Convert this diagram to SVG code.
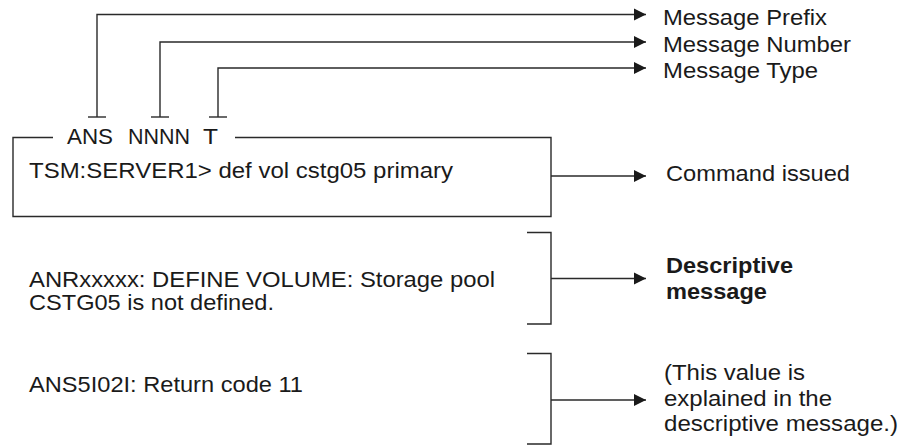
<svg xmlns="http://www.w3.org/2000/svg" width="907" height="445" viewBox="0 0 907 445">
<style>
  .t { font-family: "Liberation Sans", Arial, sans-serif; font-size: 22px; fill: #1a1a1a; }
  .b { font-weight: bold; }
  .ln { fill: none; stroke: #2a2a2a; stroke-width: 1.4; }
</style>
<defs>
  <marker id="ah" markerUnits="userSpaceOnUse" markerWidth="13" markerHeight="13" refX="12" refY="6.5" orient="auto">
    <path d="M0,0.5 L12,6.5 L0,12.5 z" fill="#1a1a1a"/>
  </marker>
</defs>
<rect width="907" height="445" fill="#ffffff"/>

<g id="connectors">
  <path class="ln" d="M97,117 V14.5 H646" marker-end="url(#ah)"/>
  <path class="ln" d="M88,117 H106"/>
  <path class="ln" d="M160,117 V42 H646" marker-end="url(#ah)"/>
  <path class="ln" d="M151,117 H169"/>
  <path class="ln" d="M218,117 V68 H646" marker-end="url(#ah)"/>
  <path class="ln" d="M209,117 H227"/>
  <path class="ln" d="M551,176 H646" marker-end="url(#ah)"/>
  <path class="ln" d="M551,278.5 H646" marker-end="url(#ah)"/>
  <path class="ln" d="M551,400 H646" marker-end="url(#ah)"/>
</g>

<g id="command-box">
  <path class="ln" d="M53,137.5 H13 V216.5 H551 V137.5 H235"/>
  <text class="t" x="67" y="143.5" textLength="46" lengthAdjust="spacingAndGlyphs">ANS</text>
  <text class="t" x="128" y="143.5" textLength="62" lengthAdjust="spacingAndGlyphs">NNNN</text>
  <text class="t" x="203" y="143.5" textLength="15" lengthAdjust="spacingAndGlyphs">T</text>
  <text class="t" x="29" y="178" textLength="424" lengthAdjust="spacingAndGlyphs">TSM:SERVER1&gt; def vol cstg05 primary</text>
</g>

<g id="descriptive-block">
  <path class="ln" d="M527,232.5 H551 V324 H527"/>
  <text class="t" x="29" y="287" textLength="466" lengthAdjust="spacingAndGlyphs">ANRxxxxx: DEFINE VOLUME: Storage pool</text>
  <text class="t" x="29" y="310" textLength="245" lengthAdjust="spacingAndGlyphs">CSTG05 is not defined.</text>
</g>

<g id="return-block">
  <path class="ln" d="M527,353.5 H551 V444 H527"/>
  <text class="t" x="29" y="392" textLength="274" lengthAdjust="spacingAndGlyphs">ANS5I02I: Return code 11</text>
</g>

<g id="label-prefix"><text class="t" x="663" y="25" textLength="164" lengthAdjust="spacingAndGlyphs">Message Prefix</text></g>
<g id="label-number"><text class="t" x="663" y="51.5" textLength="188" lengthAdjust="spacingAndGlyphs">Message Number</text></g>
<g id="label-type"><text class="t" x="663" y="78" textLength="155" lengthAdjust="spacingAndGlyphs">Message Type</text></g>
<g id="label-command"><text class="t" x="666" y="181" textLength="184" lengthAdjust="spacingAndGlyphs">Command issued</text></g>
<g id="label-descriptive">
  <text class="t b" x="666" y="273" textLength="127" lengthAdjust="spacingAndGlyphs">Descriptive</text>
  <text class="t b" x="666" y="299" textLength="101" lengthAdjust="spacingAndGlyphs">message</text>
</g>
<g id="label-value">
  <text class="t" x="664" y="380" textLength="141" lengthAdjust="spacingAndGlyphs">(This value is</text>
  <text class="t" x="664" y="406" textLength="168" lengthAdjust="spacingAndGlyphs">explained in the</text>
  <text class="t" x="664" y="431" textLength="234" lengthAdjust="spacingAndGlyphs">descriptive message.)</text>
</g>
</svg>
